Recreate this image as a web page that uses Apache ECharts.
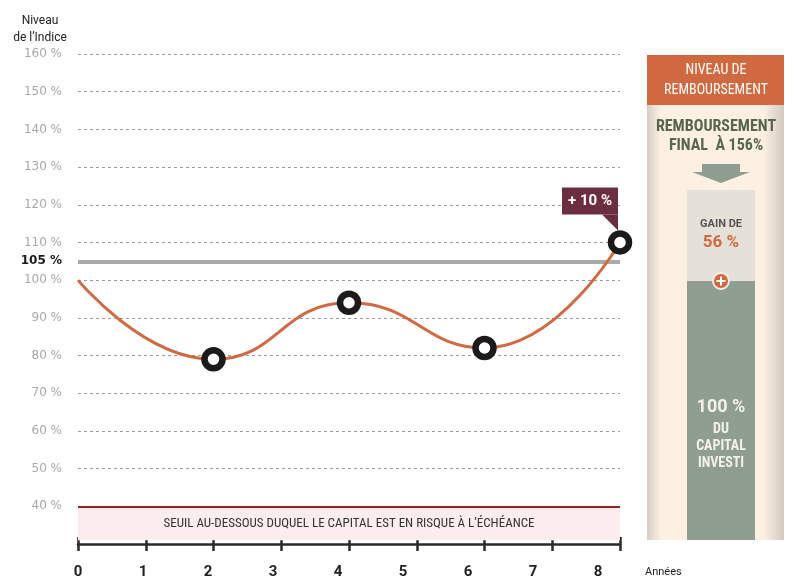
<!DOCTYPE html>
<html><head><meta charset="utf-8">
<script src="https://cdn.jsdelivr.net/npm/echarts@6/dist/echarts.min.js"></script>
<style>html,body{margin:0;padding:0;background:#fff}#c{width:796px;height:577px}</style>
</head><body><div id="c"></div>
<script>
const years = [0, 2, 4, 6, 8];
const indexLevels = [100, 79, 94, 82, 110];
const yearLabels = ['0','1','2','3','4','5','6','7','8'];
const barrierLevel = 105;
const riskLevel = 40;
const gainLabel = '+ 10 %';
const FONT = '"Liberation Sans Narrow", "Roboto Condensed", Roboto, sans-serif';
const FONT2 = 'Roboto, "Noto Sans", sans-serif';
const FONT3 = '"DejaVu Sans", Roboto, sans-serif';

const chart = echarts.init(document.getElementById('c'));
const lineData = years.map((x, i) => ({
  value: [x, indexLevels[i]],
  symbol: i === 0 ? 'none' : 'circle'
}));

const option = {
  animation: false,
  grid: [
    { left: 78, right: 176, top: 54, bottom: 33 },
    { left: 78, width: 520, top: 543, height: 1 }
  ],
  xAxis: [
    { gridIndex: 0, type: 'value', min: 0, max: 8, interval: 1,
      axisLine: { show: true, onZero: false, lineStyle: { color: '#2a2a2a', width: 2.5 } },
      axisTick: { show: true, length: 7, lineStyle: { color: '#2a2a2a', width: 2.5 } },
      axisLabel: { show: false }, splitLine: { show: false } },
    { gridIndex: 0, type: 'value', min: 0, max: 8, interval: 1, position: 'bottom', offset: 0,
      axisLine: { show: false },
      axisTick: { show: true, inside: true, length: 7, lineStyle: { color: '#2a2a2a', width: 2.5 } },
      axisLabel: { show: false }, splitLine: { show: false } },
    { gridIndex: 1, type: 'category', data: yearLabels, boundaryGap: false,
      axisLine: { show: false }, axisTick: { show: false }, splitLine: { show: false },
      axisLabel: { show: true, margin: 21, color: '#222', fontSize: 15, fontWeight: 'bold', fontFamily: FONT2 } }
  ],
  yAxis: [
    { gridIndex: 0, type: 'value', min: 30, max: 160, interval: 10,
      axisLine: { show: false }, axisTick: { show: false },
      axisLabel: { color: '#a8a8a8', fontSize: 12, margin: 16, fontFamily: FONT3,
        formatter: v => v === 30 ? '' : v + ' %' },
      splitLine: { show: true, lineStyle: { color: '#9a9a9a', type: [3, 3], width: 1 } } },
    { gridIndex: 1, type: 'value', show: false }
  ],
  series: [
    { type: 'line', xAxisIndex: 0, yAxisIndex: 0, data: lineData, smooth: 0.5,
      lineStyle: { color: '#cf6a42', width: 3 },
      symbolSize: 18,
      itemStyle: { color: '#ffffff', borderColor: '#1c1a1b', borderWidth: 6.5 },
      z: 5,
      markLine: {
        silent: true, symbol: 'none',
        data: [
          { yAxis: barrierLevel, lineStyle: { color: '#aaaaaa', width: 4, type: 'solid' },
            label: { show: true, position: 'start', formatter: barrierLevel + ' %', color: '#1a1a1a',
              fontWeight: 'bold', fontSize: 12, fontFamily: FONT3, distance: 16 } },
          { yAxis: riskLevel, lineStyle: { color: '#8c2424', width: 2, type: 'solid' }, label: { show: false } }
        ]
      },
      markArea: {
        silent: true,
        itemStyle: { color: '#fbeded' },
        label: { show: true, position: 'inside', color: '#333', fontSize: 13, fontFamily: FONT },
        data: [[{ yAxis: 31, name: 'SEUIL AU-DESSOUS DUQUEL LE CAPITAL EST EN RISQUE À L\u2019ÉCHÉANCE' }, { yAxis: riskLevel }]]
      }
    }
  ]
};
chart.setOption(option);

const p = chart.convertToPixel({ gridIndex: 0 }, [years[4], indexLevels[4]]);
const bx = p[0] - 58, by = p[1] - 55;
chart.setOption({
  graphic: [
    // y-axis title
    { type: 'text', x: 40, y: 29, style: { text: 'Niveau\nde l\u2019Indice', fill: '#222', font: '12px ' + FONT2, align: 'center', verticalAlign: 'middle', lineHeight: 17 } },
    { type: 'text', x: 645, y: 572, style: { text: 'Années', fill: '#222', font: '11px ' + FONT2, verticalAlign: 'middle' } },
    // +10% callout
    { type: 'rect', shape: { x: bx, y: by, width: 56, height: 27 }, style: { fill: '#6c2d40' }, z: 10 },
    { type: 'polygon', shape: { points: [[bx + 40, by + 27], [bx + 56, by + 27], [bx + 56, by + 43]] }, style: { fill: '#6c2d40' }, z: 10 },
    { type: 'text', x: bx + 28, y: by + 13.5, style: { text: gainLabel, fill: '#fff', font: 'bold 15px ' + FONT2, align: 'center', verticalAlign: 'middle' }, z: 11 },
    // right panel
    { type: 'rect', shape: { x: 647, y: 55, width: 137, height: 485 }, z: 1,
      style: { fill: new echarts.graphic.LinearGradient(0, 0, 1, 0, [
        { offset: 0, color: '#d9cec6' }, { offset: 0.1, color: '#fcf0e3' },
        { offset: 0.85, color: '#fcf0e3' }, { offset: 1, color: '#d4c9c2' }]) } },
    { type: 'rect', shape: { x: 647, y: 55, width: 137, height: 50 }, style: { fill: '#d0693f' }, z: 2 },
    { type: 'text', x: 716, y: 80, style: { text: 'NIVEAU DE\nREMBOURSEMENT', fill: '#fff', font: '14px ' + FONT, align: 'center', verticalAlign: 'middle', lineHeight: 20 }, z: 3 },
    { type: 'text', x: 716, y: 136, style: { text: 'REMBOURSEMENT\nFINAL  À 156%', fill: '#58664f', font: 'bold 16px ' + FONT, align: 'center', verticalAlign: 'middle', lineHeight: 19 }, z: 3 },
    { type: 'rect', shape: { x: 702, y: 164, width: 38, height: 9 }, style: { fill: '#8f9e91' }, z: 3 },
    { type: 'polygon', shape: { points: [[692, 172], [750, 172], [721, 183]] }, style: { fill: '#8f9e91' }, z: 3 },
    { type: 'rect', shape: { x: 687, y: 190, width: 68, height: 91 }, style: { fill: '#e5e1d9' }, z: 3 },
    { type: 'rect', shape: { x: 687, y: 281, width: 68, height: 259 }, style: { fill: '#8f9e91' }, z: 3 },
    { type: 'text', x: 721, y: 224, style: { text: 'GAIN DE', fill: '#555', font: 'bold 11px ' + FONT2, align: 'center', verticalAlign: 'middle' }, z: 4 },
    { type: 'text', x: 721, y: 243, style: { text: '56 %', fill: '#d0693f', font: 'bold 17px ' + FONT2, align: 'center', verticalAlign: 'middle' }, z: 4 },
    { type: 'circle', shape: { cx: 721, cy: 281, r: 8 }, style: { fill: '#d0693f', stroke: '#f3ece3', lineWidth: 2 }, z: 5 },
    { type: 'rect', shape: { x: 716.5, y: 280, width: 9, height: 2 }, style: { fill: '#fff' }, z: 6 },
    { type: 'rect', shape: { x: 720, y: 276.5, width: 2, height: 9 }, style: { fill: '#fff' }, z: 6 },
    { type: 'text', x: 721, y: 407, style: { text: '100 %', fill: '#f4f1ea', font: 'bold 18px ' + FONT2, align: 'center', verticalAlign: 'middle' }, z: 4 },
    { type: 'text', x: 721, y: 446, style: { text: 'DU\nCAPITAL\nINVESTI', fill: '#f4f1ea', font: 'bold 14px ' + FONT, align: 'center', verticalAlign: 'middle', lineHeight: 17 }, z: 4 }
  ]
});
</script></body></html>
